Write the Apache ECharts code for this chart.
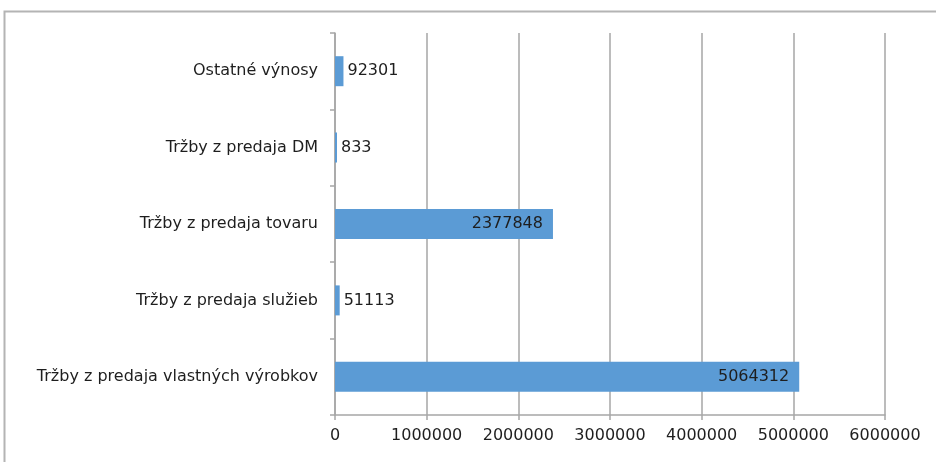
<!DOCTYPE html>
<html>
<head>
<meta charset="utf-8">
<script src="https://cdn.jsdelivr.net/npm/echarts@6/dist/echarts.min.js"></script>
<style>
  html, body { margin: 0; padding: 0; background: #ffffff; }
  #chart { width: 936px; height: 462px; }
</style>
</head>
<body>
<div id="chart"></div>
<script>
// Revenue structure by item (EUR)
const categories = [
  'Tržby z predaja vlastných výrobkov',
  'Tržby z predaja služieb',
  'Tržby z predaja tovaru',
  'Tržby z predaja DM',
  'Ostatné výnosy'
];
const values = [5064312, 51113, 2377848, 833, 92301];
const axisTicks = [0, 1000000, 2000000, 3000000, 4000000, 5000000, 6000000];

// Large bars carry their label inside the end, small ones just beyond it
const insideThreshold = 1000000;

const chart = echarts.init(document.getElementById('chart'), null, { renderer: 'canvas' });

const fontFamily = 'DejaVu Sans';
const textColor = '#1e1e1e';
const gray = '#a6a6a6';

chart.setOption({
  animation: false,
  backgroundColor: '#ffffff',
  graphic: [{
    type: 'rect',
    shape: { x: 4.5, y: 11.5, width: 1000, height: 1000 },
    style: { fill: 'none', stroke: '#b4b4b4', lineWidth: 2 },
    silent: true
  }],
  grid: { left: 335, right: 51, top: 33, bottom: 47, containLabel: false },
  xAxis: {
    type: 'value',
    min: axisTicks[0],
    max: axisTicks[axisTicks.length - 1],
    interval: axisTicks[1] - axisTicks[0],
    axisLine: { show: true, lineStyle: { color: gray, width: 1.5 } },
    axisTick: { show: true, length: 5, lineStyle: { color: gray, width: 1.5 } },
    splitLine: { show: true, lineStyle: { color: gray, width: 1.5 } },
    axisLabel: {
      color: textColor, fontFamily: fontFamily, fontSize: 16, margin: 13,
      formatter: v => String(v)
    }
  },
  yAxis: {
    type: 'category',
    data: categories,
    axisLine: { show: true, lineStyle: { color: gray, width: 1.5 } },
    axisTick: { show: true, length: 5, alignWithLabel: false, lineStyle: { color: gray, width: 1.5 } },
    splitLine: { show: false },
    axisLabel: { color: textColor, fontFamily: fontFamily, fontSize: 16, margin: 17 }
  },
  series: [{
    type: 'bar',
    data: values.map(v => ({
      value: v,
      label: v >= insideThreshold
        ? { position: 'insideRight', distance: 10 }
        : { position: 'right', distance: 4 }
    })),
    barWidth: 30,
    barMinHeight: 2,
    itemStyle: { color: '#5b9bd5' },
    label: {
      show: true,
      color: textColor,
      fontFamily: fontFamily,
      fontSize: 16
    }
  }]
});
</script>
</body>
</html>
